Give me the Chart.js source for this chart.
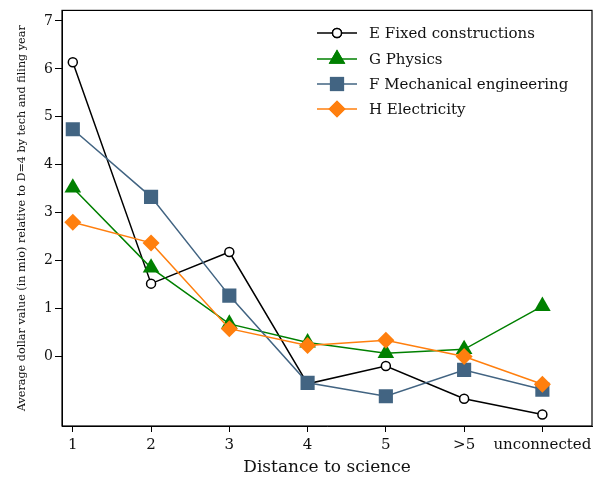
<!DOCTYPE html>
<html>
<head>
<meta charset="utf-8">
<script src="https://cdn.jsdelivr.net/npm/chart.js@4"></script>
<style>
  html, body { margin: 0; padding: 0; background: #ffffff; }
  #wrap { width: 602px; height: 483px; }
</style>
</head>
<body>
<div id="wrap"><canvas id="c" width="602" height="483"></canvas></div>
<script>
const categories = ['1', '2', '3', '4', '5', '>5', 'unconnected'];
const yTickValues = [0, 1, 2, 3, 4, 5, 6, 7];
const seriesE = [6.14, 1.52, 2.18, -0.57, -0.20, -0.88, -1.21];
const seriesG = [3.52, 1.85, 0.68, 0.29, 0.07, 0.15, 1.05];
const seriesF = [4.74, 3.33, 1.27, -0.55, -0.83, -0.28, -0.69];
const seriesH = [2.80, 2.37, 0.58, 0.23, 0.34, 0.00, -0.58];
const labels = ['E Fixed constructions', 'G Physics', 'F Mechanical engineering', 'H Electricity'];

const FONT = "'DejaVu Serif', 'Liberation Serif', serif";
const toXY = arr => arr.map((v, i) => ({ x: i + 1, y: v }));

const styles = [
  { color: '#000000', point: 'circle', radius: 4.5, bg: '#ffffff', bw: 1.5 },
  { color: '#008000', point: 'triangle', radius: 9.6, bg: '#008000', bw: 0 },
  { color: '#426482', point: 'rect', radius: 10, bg: '#426482', bw: 0 },
  { color: '#ff7f0e', point: 'rectRot', radius: 8.5, bg: '#ff7f0e', bw: 0 }
];
const seriesList = [seriesE, seriesG, seriesF, seriesH];

const datasets = seriesList.map((s, i) => ({
  label: labels[i],
  data: toXY(s),
  borderColor: styles[i].color,
  borderWidth: 1.5,
  pointStyle: styles[i].point,
  pointRadius: styles[i].radius,
  pointHoverRadius: styles[i].radius,
  pointBackgroundColor: styles[i].bg,
  pointBorderColor: styles[i].color,
  pointBorderWidth: styles[i].bw,
  fill: false,
  tension: 0,
  order: 3 - i
}));

const framePlugin = {
  id: 'frame',
  afterDatasetsDraw(chart) {
    const { ctx, chartArea: a } = chart;
    ctx.save();
    ctx.strokeStyle = '#000000';
    ctx.lineWidth = 1.2;
    ctx.strokeRect(a.left, a.top, a.right - a.left, a.bottom - a.top);
    ctx.restore();
  }
};

const legendPlugin = {
  id: 'innerLegend',
  afterDraw(chart) {
    const { ctx } = chart;
    const rows = [33, 59, 84, 109];
    const x0 = 317, x1 = 357, xm = 337, xt = 369;
    ctx.save();
    chart.data.datasets.forEach((ds, i) => {
      const y = rows[i];
      ctx.strokeStyle = ds.borderColor;
      ctx.lineWidth = 1.5;
      ctx.beginPath();
      ctx.moveTo(x0, y);
      ctx.lineTo(x1, y);
      ctx.stroke();
      ctx.fillStyle = ds.pointBackgroundColor;
      ctx.strokeStyle = ds.pointBorderColor;
      ctx.lineWidth = ds.pointBorderWidth || 0;
      Chart.helpers.drawPoint(ctx, {
        pointStyle: ds.pointStyle,
        radius: ds.pointRadius,
        borderWidth: ds.pointBorderWidth || 0,
        rotation: 0
      }, xm, y);
      ctx.fill();
      if (ds.pointBorderWidth) ctx.stroke();
      ctx.fillStyle = '#111111';
      ctx.font = "15px " + FONT;
      ctx.textAlign = 'left';
      ctx.textBaseline = 'middle';
      ctx.fillText(ds.label, xt, y + 1);
    });
    ctx.restore();
  }
};

new Chart(document.getElementById('c'), {
  type: 'line',
  data: { datasets },
  options: {
    responsive: false,
    animation: false,
    devicePixelRatio: 1,
    layout: { padding: { top: 10, right: 9, left: 0, bottom: 0 } },
    plugins: { legend: { display: false }, tooltip: { enabled: false } },
    scales: {
      x: {
        type: 'linear',
        min: 0.862,
        max: 7.634,
        afterBuildTicks(scale) { scale.ticks = categories.map((c, i) => ({ value: i + 1 })); },
        afterFit(scale) { scale.height = 57; },
        ticks: {
          callback: (v) => categories[Math.round(v) - 1],
          color: '#111111',
          font: { family: FONT, size: 15 },
          padding: 4,
          maxRotation: 0,
          autoSkip: false
        },
        grid: { drawOnChartArea: false, drawTicks: true, tickLength: 6, color: '#000000' },
        border: { display: true, color: '#000000', width: 1 },
        title: {
          display: true,
          text: 'Distance to science',
          color: '#111111',
          font: { family: FONT, size: 17 },
          padding: { top: 0, bottom: 5 }
        }
      },
      y: {
        type: 'linear',
        min: -1.45,
        max: 7.22,
        afterBuildTicks(scale) { scale.ticks = yTickValues.map(v => ({ value: v })); },
        afterFit(scale) { scale.width = 62; },
        ticks: {
          color: '#111111',
          font: { family: FONT, size: 14 },
          padding: 2,
          autoSkip: false
        },
        grid: { drawOnChartArea: false, drawTicks: true, tickLength: 7, color: '#000000' },
        border: { display: true, color: '#000000', width: 1 },
        title: {
          display: true,
          text: 'Average dollar value (in mio) relative to D=4 by tech and filing year',
          color: '#111111',
          font: { family: FONT, size: 11.2 },
          padding: { top: 15, bottom: 0 }
        }
      }
    }
  },
  plugins: [framePlugin, legendPlugin]
});
</script>
</body>
</html>
